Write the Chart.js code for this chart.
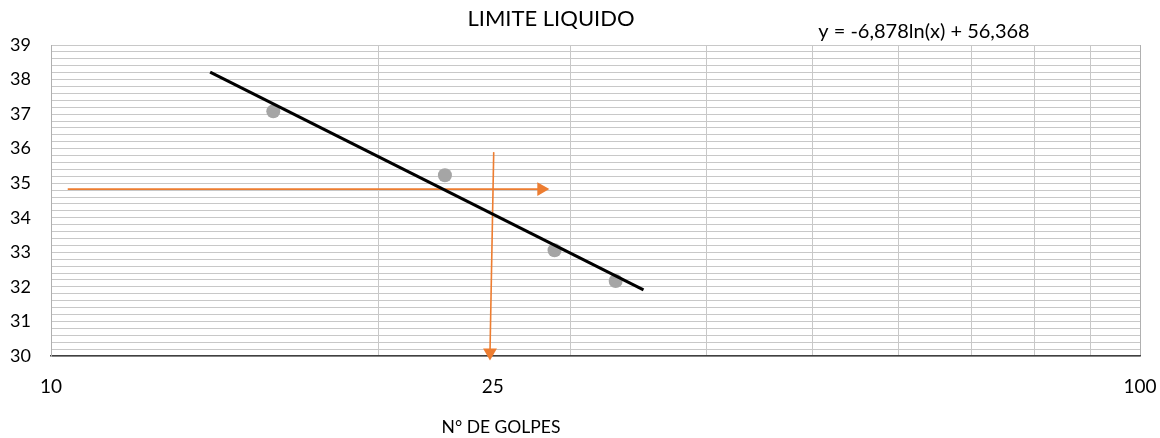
<!DOCTYPE html>
<html>
<head>
<meta charset="utf-8">
<script src="https://cdn.jsdelivr.net/npm/chart.js@4/dist/chart.umd.min.js"></script>
<style>
  html, body { margin: 0; padding: 0; background: #ffffff; }
  #wrap { width: 1160px; height: 438px; position: relative; }
</style>
</head>
<body>
<div id="wrap"><canvas id="c" width="1160" height="438"></canvas></div>
<script>
// Liquid-limit test: blow count vs. water content (%)
const golpes = [16, 23, 29, 33];
const humedad = [37.08, 35.23, 33.06, 32.17];

// Logarithmic trend: y = a·ln(x) + b
const trendA = -6.878;
const trendB = 56.368;
const trendX = [14, 35];

// Guide arrows (blow count 25 reading)
const guideHX = [10.36, 28.2];
const guideHY = [34.83, 34.83];
const guideVX = [25.5, 25.3];
const guideVY = [35.9, 30.1];

const xGridTicks = [10, 20, 30, 40, 50, 60, 70, 80, 90, 100];
const xLabelTicks = [10, 100];
const yMin = 30, yMax = 39, yStep = 0.2;

const titleText = 'LIMITE LIQUIDO';
const equationText = 'y = -6,878ln(x) + 56,368';
const xAxisText = 'N° DE GOLPES';
const markText = '25';

const FONT = 'Lato, "Open Sans", sans-serif';
const ORANGE = '#ed7d31';

const pts = (xs, ys) => xs.map((x, i) => ({ x: x, y: ys[i] }));
const trendY = trendX.map(x => trendA * Math.log(x) + trendB);

const textPlugin = {
  id: 'chartTexts',
  afterDraw(chart) {
    const ctx = chart.ctx;
    const xs = chart.scales.x;
    ctx.save();
    ctx.fillStyle = '#000';
    ctx.textBaseline = 'middle';
    ctx.textAlign = 'center';
    ctx.font = '22px ' + FONT;
    ctx.fillText(titleText, 551, 19);
    ctx.font = '20px ' + FONT;
    ctx.fillText(equationText, 924, 32);
    ctx.font = '19px ' + FONT;
    ctx.fillText(markText, xs.getPixelForValue(guideVX[0]) - 1, 387);
    ctx.font = '17.5px ' + FONT;
    ctx.fillText(xAxisText, 501, 427);
    ctx.restore();
  }
};

new Chart(document.getElementById('c'), {
  type: 'scatter',
  data: {
    datasets: [
      {
        label: 'guideH',
        data: pts(guideHX, guideHY),
        showLine: true,
        borderColor: ORANGE,
        borderWidth: 1.6,
        backgroundColor: ORANGE,
        pointStyle: 'triangle',
        pointRotation: 90,
        pointRadius: [0, 8],
        pointBorderWidth: 0,
        order: 3
      },
      {
        label: 'guideV',
        data: pts(guideVX, guideVY),
        showLine: true,
        borderColor: ORANGE,
        borderWidth: 1.6,
        backgroundColor: ORANGE,
        pointStyle: 'triangle',
        pointRotation: 180,
        pointRadius: [0, 8],
        pointBorderWidth: 0,
        clip: false,
        order: 3
      },
      {
        label: 'trend',
        data: pts(trendX, trendY),
        showLine: true,
        borderColor: '#000000',
        borderWidth: 3,
        pointRadius: 0,
        order: 1
      },
      {
        label: 'data',
        data: pts(golpes, humedad),
        backgroundColor: '#a5a5a5',
        borderColor: '#a5a5a5',
        pointRadius: 7,
        pointBorderWidth: 0,
        order: 2
      }
    ]
  },
  options: {
    responsive: false,
    animation: false,
    events: [],
    layout: { padding: { top: 45, right: 20, left: 0, bottom: 0 } },
    plugins: {
      legend: { display: false },
      tooltip: { enabled: false },
      title: { display: false }
    },
    scales: {
      x: {
        type: 'logarithmic',
        min: 10,
        max: 100,
        afterBuildTicks: (s) => { s.ticks = xGridTicks.map(v => ({ value: v })); },
        afterFit: (s) => { s.height = 82; s.paddingLeft = 0; s.paddingRight = 0; },
        ticks: {
          autoSkip: false,
          maxRotation: 0,
          padding: 19,
          color: '#000',
          font: { family: FONT, size: 19 },
          callback: (v) => xLabelTicks.includes(v) ? String(v) : ''
        },
        grid: {
          color: (c) => c.tick && c.tick.value === 100 ? '#b0b0b0' : '#c8c8c8',
          lineWidth: 1,
          drawTicks: false
        },
        border: { display: true, color: '#404040', width: 1.5 }
      },
      y: {
        min: yMin,
        max: yMax,
        afterBuildTicks: (s) => {
          const t = [];
          const n = Math.round((yMax - yMin) / yStep);
          for (let i = 0; i <= n; i++) t.push({ value: +(yMin + i * yStep).toFixed(1) });
          s.ticks = t;
        },
        afterFit: (s) => { s.width = 51; s.paddingTop = 0; s.paddingBottom = 0; },
        ticks: {
          autoSkip: false,
          padding: 20,
          color: '#000',
          font: { family: FONT, size: 18 },
          callback: (v) => Math.abs(v - Math.round(v)) < 1e-6 ? String(Math.round(v)) : ''
        },
        grid: {
          color: '#c8c8c8',
          lineWidth: 1,
          drawTicks: false
        },
        border: { display: true, color: '#b0b0b0', width: 1 }
      }
    }
  },
  plugins: [textPlugin]
});
</script>
</body>
</html>
